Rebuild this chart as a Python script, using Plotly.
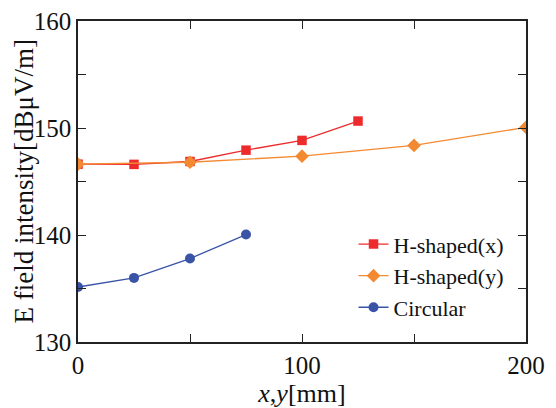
import plotly.graph_objects as go

x_hx = [0, 25, 50, 75, 100, 125]
y_hx = [146.62, 146.6, 146.87, 147.93, 148.84, 150.65]
x_hy = [0, 50, 100, 150, 200]
y_hy = [146.62, 146.8, 147.37, 148.37, 150.06]
x_c = [0, 25, 50, 75]
y_c = [135.14, 135.99, 137.8, 140.04]

FONT = "Liberation Serif, Times New Roman, serif"

fig = go.Figure()
fig.add_trace(go.Scatter(x=x_hx, y=y_hx, mode="lines+markers", name="H-shaped(x)",
                         line=dict(color="#ee2b2c", width=1.3),
                         marker=dict(symbol="square", size=9.5, color="#ee2b2c")))
fig.add_trace(go.Scatter(x=x_hy, y=y_hy, mode="lines+markers", name="H-shaped(y)",
                         line=dict(color="#f38a32", width=1.3),
                         marker=dict(symbol="diamond", size=10.5, color="#f38a32")))
fig.add_trace(go.Scatter(x=x_c, y=y_c, mode="lines+markers", name="Circular",
                         line=dict(color="#3953a6", width=1.3),
                         marker=dict(symbol="circle", size=10, color="#3953a6")))

axis_common = dict(showgrid=False, zeroline=False, showline=True, linecolor="#222",
                   linewidth=1.5, mirror="ticks", ticks="inside", ticklen=8,
                   tickwidth=1.3, tickcolor="#222", automargin=False,
                   tickfont=dict(family=FONT, size=25, color="#111"))

fig.update_xaxes(range=[0, 200], tickvals=[0, 100, 200],
                 minor=dict(tickvals=[50, 150], ticks="inside", ticklen=8, tickwidth=1.3, tickcolor="#222"),
                 title=dict(text="<i>x</i>,<i>y</i>[mm]", font=dict(family=FONT, size=26, color="#111"), standoff=4),
                 **axis_common)
fig.update_yaxes(range=[130, 160], tickvals=[130, 140, 150, 160],
                 minor=dict(tickvals=[135, 145, 155], ticks="inside", ticklen=8, tickwidth=1.3, tickcolor="#222"),
                 **axis_common)

fig.add_annotation(text="E field intensity[dBμV/m]", textangle=-90,
                   xref="paper", yref="paper", x=-55 / 448, y=0.5,
                   xanchor="center", yanchor="middle", showarrow=False,
                   font=dict(family=FONT, size=27, color="#111"))

fig.update_layout(width=556, height=408, margin=dict(l=78, r=30, t=21, b=66),
                  plot_bgcolor="white", paper_bgcolor="white",
                  legend=dict(x=0.615, y=0.37, xanchor="left", yanchor="top",
                              bgcolor="rgba(0,0,0,0)", tracegroupgap=0,
                              font=dict(family=FONT, size=22, color="#111")),
                  showlegend=True)

fig.write_html("out.html")
